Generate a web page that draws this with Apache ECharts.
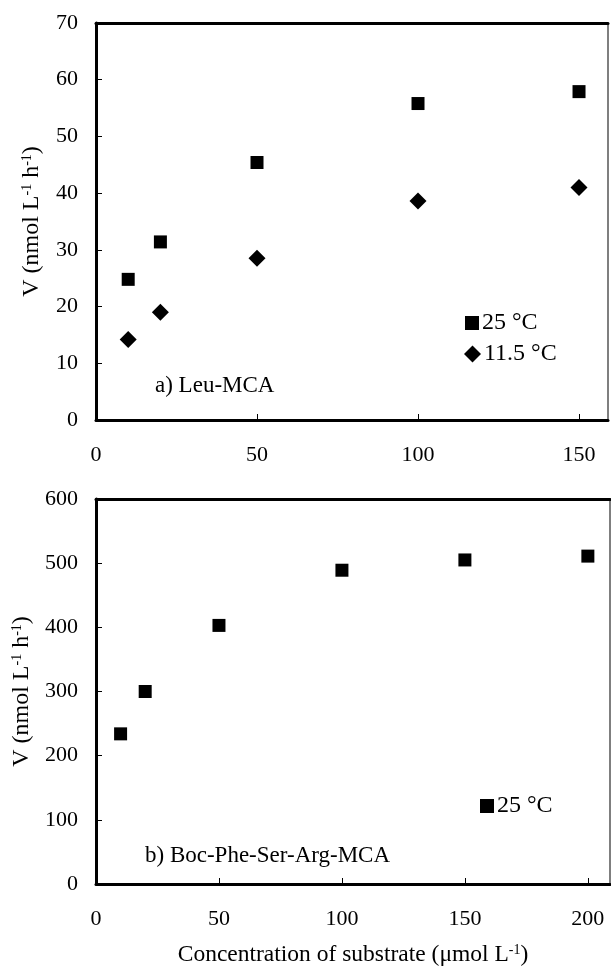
<!DOCTYPE html>
<html>
<head>
<meta charset="utf-8">
<script src="https://cdn.jsdelivr.net/npm/echarts@6/dist/echarts.min.js"></script>
<style>
html,body{margin:0;padding:0;background:#fff;}
#chart{width:611px;height:968px;}
</style>
</head>
<body>
<div id="chart"></div>
<script>
// ---- data ----
const topConc = [10, 20, 50, 100, 150];
const top25C = [24.8, 31.4, 45.4, 55.8, 57.9];
const top115C = [14.2, 19.0, 28.5, 38.6, 41.0];
const botConc = [10, 20, 50, 100, 150, 200];
const bot25C = [234, 300, 403, 489, 505, 511];
const topXTicks = [0, 50, 100, 150];
const botXTicks = [0, 50, 100, 150, 200];
const topYTicks = [0, 10, 20, 30, 40, 50, 60, 70];
const botYTicks = [0, 100, 200, 300, 400, 500, 600];
const seriesNames = ['25 °C', '11.5 °C'];
const panelLabels = ['a) Leu-MCA', 'b) Boc-Phe-Ser-Arg-MCA'];

const FONT = 'Liberation Serif';
const pairs = (xs, ys) => xs.map((x, i) => [x, ys[i]]);
const supRich = {sup: {fontSize: 14, fontFamily: FONT, color: '#000', verticalAlign: 'top', lineHeight: 13}};

function mainX(grid, max, ticks, name) {
  return {
    type: 'value', gridIndex: grid, min: 0, max: max, position: 'bottom',
    axisLine: {show: true, onZero: false, lineStyle: {color: '#000', width: 3}},
    axisTick: {show: true, inside: true, length: 6, customValues: ticks, lineStyle: {color: '#000', width: 1}},
    axisLabel: {customValues: ticks, color: '#000', fontFamily: FONT, fontSize: 22, margin: 24},
    splitLine: {show: false},
    name: name || '', nameLocation: 'middle', nameGap: 59,
    nameTextStyle: {color: '#000', fontFamily: FONT, fontSize: 23.5, rich: supRich}
  };
}
function topBorder(grid, max) {
  return {
    type: 'value', gridIndex: grid, min: 0, max: max, position: 'top',
    axisLine: {show: true, onZero: false, lineStyle: {color: '#000', width: 3}},
    axisTick: {show: false}, axisLabel: {show: false}, splitLine: {show: false}
  };
}
function mainY(grid, max, interval) {
  return {
    type: 'value', gridIndex: grid, min: 0, max: max, interval: interval, position: 'left',
    axisLine: {show: true, onZero: false, lineStyle: {color: '#000', width: 3}},
    axisTick: {show: true, inside: true, length: 6, lineStyle: {color: '#000', width: 1}},
    axisLabel: {color: '#000', fontFamily: FONT, fontSize: 22, margin: 18},
    splitLine: {show: false},
    name: 'V (nmol L{sup|-1} h{sup|-1})', nameLocation: 'middle', nameRotate: 90, nameGap: 52,
    nameTextStyle: {color: '#000', fontFamily: FONT, fontSize: 24, rich: supRich}
  };
}
function rightBorder(grid, max) {
  return {
    type: 'value', gridIndex: grid, min: 0, max: max, position: 'right',
    axisLine: {show: true, onZero: false, lineStyle: {color: '#555', width: 1.5}},
    axisTick: {show: false}, axisLabel: {show: false}, splitLine: {show: false}
  };
}
function legendItem(name, icon, left, top, size) {
  return {orient: 'vertical', left: left, top: top, padding: 0, itemWidth: size, itemHeight: size,
    itemStyle: {color: '#000', opacity: 1}, selectedMode: false, itemGap: 0,
    textStyle: {color: '#000', fontFamily: FONT, fontSize: 24, padding: [0, 0, 0, -2]},
    data: [{name: name, icon: icon}]};
}

const chart = echarts.init(document.getElementById('chart'), null, {renderer: 'canvas'});
chart.setOption({
  backgroundColor: '#fff',
  animation: false,
  textStyle: {fontFamily: FONT},
  grid: [
    {left: 96, top: 23, width: 512, height: 397, containLabel: false},
    {left: 96, top: 499, width: 514, height: 386, containLabel: false}
  ],
  xAxis: [
    mainX(0, 159, topXTicks),
    mainX(1, 209, botXTicks, 'Concentration of substrate (μmol L{sup|-1})'),
    topBorder(0, 159),
    topBorder(1, 209)
  ],
  yAxis: [
    mainY(0, 70, 10),
    mainY(1, 600, 100),
    rightBorder(0, 70),
    rightBorder(1, 600)
  ],
  title: [
    {text: panelLabels[0], left: 155, top: 374, padding: 0,
     textStyle: {color: '#000', fontFamily: FONT, fontSize: 23, fontWeight: 'normal'}},
    {text: panelLabels[1], left: 145, top: 844, padding: 0,
     textStyle: {color: '#000', fontFamily: FONT, fontSize: 23, fontWeight: 'normal'}}
  ],
  legend: [
    legendItem(seriesNames[0], 'rect', 465, 311, 14),
    legendItem(seriesNames[1], 'diamond', 464, 342, 17),
    legendItem(seriesNames[0], 'rect', 480, 794, 14)
  ],
  series: [
    {name: seriesNames[0], type: 'scatter', xAxisIndex: 0, yAxisIndex: 0,
     symbol: 'rect', symbolSize: 13, itemStyle: {color: '#000', opacity: 1},
     data: pairs(topConc, top25C)},
    {name: seriesNames[1], type: 'scatter', xAxisIndex: 0, yAxisIndex: 0,
     symbol: 'diamond', symbolSize: 17, itemStyle: {color: '#000', opacity: 1},
     data: pairs(topConc, top115C)},
    {name: seriesNames[0], type: 'scatter', xAxisIndex: 1, yAxisIndex: 1,
     symbol: 'rect', symbolSize: 13, itemStyle: {color: '#000', opacity: 1},
     data: pairs(botConc, bot25C)}
  ]
});
</script>
</body>
</html>
